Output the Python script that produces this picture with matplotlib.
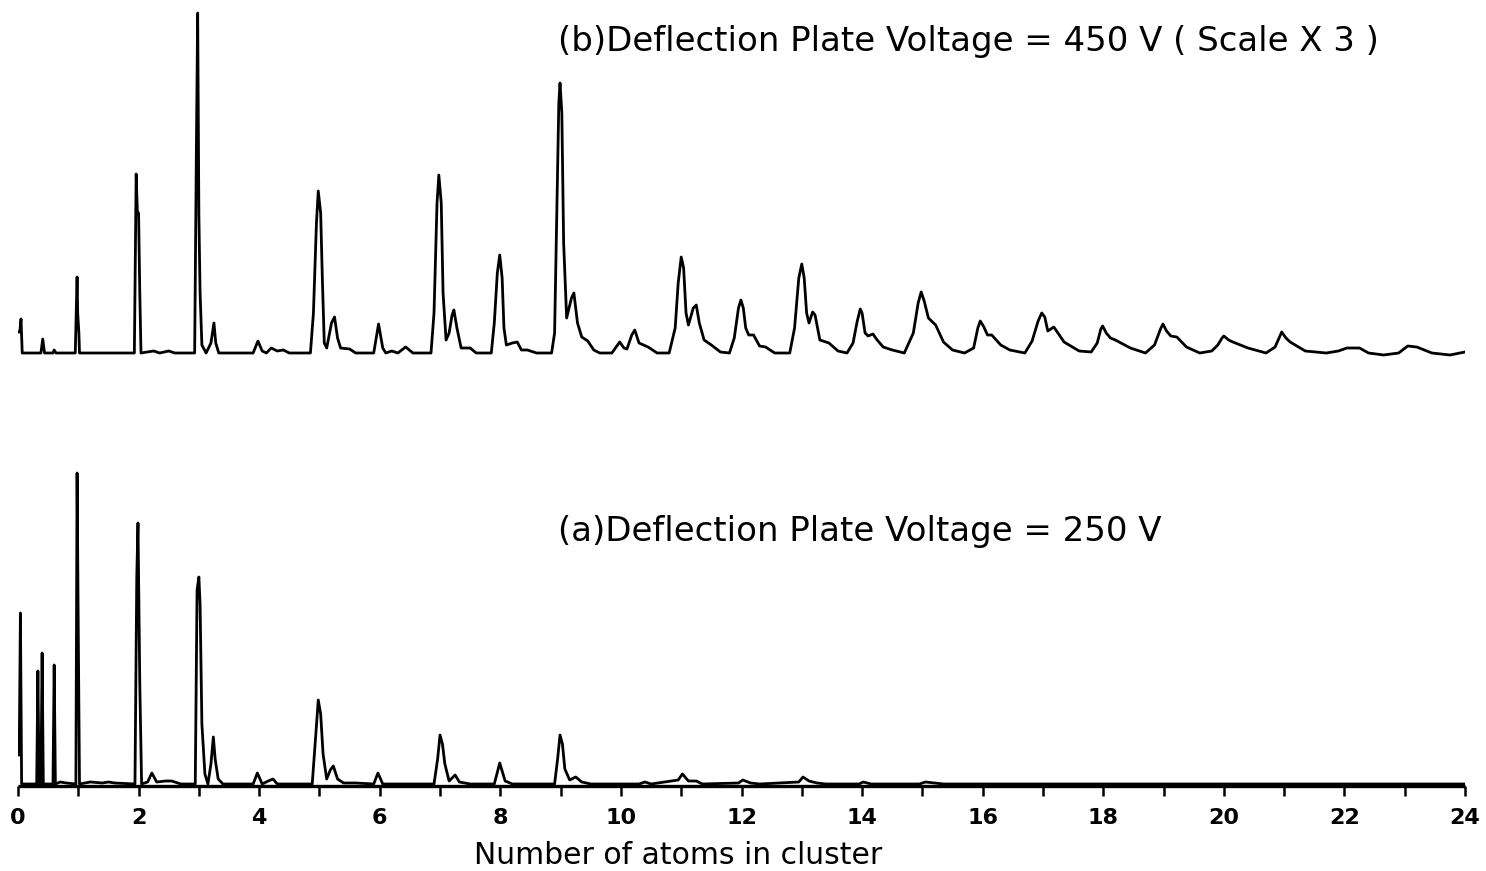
import matplotlib
matplotlib.use('Agg')
import matplotlib.pyplot as plt

# cluster-size spectrum, trace (b): 450 V, drawn at 3x scale
b_x = [0.00, 0.03, 0.05, 0.07, 0.38, 0.41, 0.44, 0.58, 0.60, 0.63,
       0.95, 0.98, 0.99, 1.01, 1.02, 1.93, 1.96, 1.98, 2.00, 2.02, 2.04,
       2.25, 2.35, 2.50, 2.60, 2.93, 2.96, 2.98, 3.00, 3.02, 3.05, 3.12,
       3.20, 3.25, 3.28, 3.33, 3.90, 3.98, 4.05, 4.12, 4.20, 4.30, 4.40,
       4.50, 4.85, 4.90, 4.95, 4.98, 5.02, 5.05, 5.08, 5.12, 5.20, 5.25,
       5.30, 5.35, 5.50, 5.60, 5.90, 5.95, 5.98, 6.02, 6.05, 6.10, 6.20,
       6.30, 6.43, 6.55, 6.85, 6.90, 6.95, 6.98, 7.02, 7.05, 7.10, 7.15,
       7.20, 7.23, 7.28, 7.35, 7.50, 7.60, 7.85, 7.90, 7.95, 7.99, 8.03,
       8.06, 8.10, 8.20, 8.28, 8.35, 8.45, 8.60, 8.85, 8.90, 8.94, 8.97,
       8.99, 9.02, 9.05, 9.10, 9.18, 9.22, 9.28, 9.35, 9.45, 9.55, 9.65,
       9.85, 9.98, 10.05, 10.10, 10.18, 10.23, 10.30, 10.45, 10.60, 10.80,
       10.90, 10.95, 11.00, 11.04, 11.08, 11.12, 11.20, 11.25, 11.30,
       11.38, 11.50, 11.65, 11.80, 11.88, 11.95, 11.99, 12.03, 12.07,
       12.12, 12.20, 12.30, 12.40, 12.55, 12.80, 12.88, 12.95, 13.00,
       13.04, 13.08, 13.12, 13.18, 13.22, 13.30, 13.45, 13.60, 13.75,
       13.85, 13.92, 13.97, 14.00, 14.05, 14.10, 14.18, 14.25, 14.35,
       14.50, 14.70, 14.85, 14.93, 14.98, 15.03, 15.10, 15.17, 15.22,
       15.35, 15.50, 15.70, 15.85, 15.92, 15.96, 16.02, 16.08, 16.15,
       16.30, 16.45, 16.70, 16.82, 16.92, 16.98, 17.03, 17.08, 17.18,
       17.35, 17.60, 17.80, 17.90, 17.96, 17.99, 18.05, 18.12, 18.20,
       18.45, 18.70, 18.85, 18.95, 18.99, 19.05, 19.12, 19.22, 19.38,
       19.60, 19.80, 19.90, 19.97, 20.00, 20.08, 20.15, 20.40, 20.70,
       20.85, 20.93, 20.96, 21.03, 21.10, 21.35, 21.70, 21.90, 22.04,
       22.25, 22.40, 22.65, 22.90, 23.05, 23.20, 23.45, 23.75, 24.00]
b_y = [21, 21, 34, 0, 0, 14, 0, 0, 3, 0,
       0, 76, 40, 20, 0, 0, 179, 140, 140, 60, 0,
       2, 0, 2, 0, 0, 213, 340, 138, 60, 8, 0,
       10, 30, 10, 0, 0, 12, 2, 0, 5, 2, 3,
       0, 0, 40, 130, 162, 140, 70, 10, 5, 30, 36,
       15, 5, 4, 0, 0, 18, 29, 15, 5, 0, 2,
       0, 6, 0, 0, 40, 150, 178, 150, 60, 13, 20,
       38, 43, 25, 5, 5, 0, 0, 30, 80, 98, 75,
       25, 8, 10, 11, 3, 3, 0, 0, 20, 150, 250,
       270, 240, 110, 35, 55, 60, 30, 16, 12, 3, 0,
       0, 11, 5, 4, 18, 23, 10, 6, 0, 0,
       25, 70, 96, 85, 40, 28, 45, 48, 30,
       13, 8, 1, 0, 15, 45, 53, 45, 25,
       18, 18, 7, 6, 0, 0, 25, 75, 89,
       75, 40, 30, 41, 38, 13, 10, 2, 0,
       10, 32, 44, 40, 20, 17, 19, 13, 6,
       3, 0, 20, 50, 61, 52, 35, 31, 28,
       11, 3, 0, 5, 25, 32, 26, 18, 18,
       8, 3, 0, 12, 32, 40, 36, 22, 26,
       11, 2, 1, 10, 24, 27, 20, 15, 13,
       5, 0, 8, 24, 29, 22, 17, 16, 6,
       0, 2, 8, 15, 17, 13, 11, 5, 0,
       6, 17, 21, 15, 11, 2, 0, 2, 5,
       5, 0, -2, 0, 7, 6, 0, -2, 1]

# trace (a): 250 V
a_x = [0.00, 0.02, 0.04, 0.06, 0.31, 0.33, 0.35, 0.38, 0.40, 0.42,
       0.58, 0.60, 0.62, 0.70, 0.80, 0.96, 0.98, 1.00, 1.02, 1.20,
       1.40, 1.50, 1.60, 1.94, 1.97, 1.99, 2.02, 2.05, 2.15, 2.22,
       2.30, 2.45, 2.55, 2.70, 2.94, 2.97, 3.00, 3.02, 3.05, 3.10,
       3.15, 3.20, 3.24, 3.27, 3.32, 3.40, 3.90, 3.97, 4.05, 4.15,
       4.23, 4.30, 4.88, 4.94, 4.98, 5.02, 5.06, 5.12, 5.18, 5.23,
       5.30, 5.40, 5.60, 5.90, 5.97, 6.05, 6.90, 6.96, 7.00, 7.04,
       7.08, 7.15, 7.25, 7.32, 7.50, 7.90, 7.99, 8.08, 8.20, 8.90,
       8.95, 8.99, 9.03, 9.07, 9.15, 9.25, 9.35, 9.50, 10.30, 10.40,
       10.50, 10.95, 11.02, 11.12, 11.25, 11.35, 11.95, 12.02, 12.15,
       12.30, 12.95, 13.02, 13.12, 13.25, 13.40, 13.95, 14.02, 14.15,
       14.95, 15.05, 15.20, 15.35, 24.00]
a_y = [29, 29, 171, 0, 0, 113, 0, 0, 131, 0,
       0, 119, 0, 2, 1, 0, 311, 150, 0, 2,
       1, 2, 1, 0, 207, 261, 100, 0, 2, 11,
       2, 3, 3, 0, 0, 194, 207, 180, 60, 10,
       0, 20, 47, 25, 5, 0, 0, 11, 0, 3,
       5, 0, 0, 50, 84, 70, 30, 5, 14, 18,
       5, 1, 1, 0, 11, 0, 0, 25, 49, 40,
       20, 3, 9, 2, 0, 0, 21, 3, 0, 0,
       25, 49, 40, 15, 4, 7, 2, 0, 0, 2,
       0, 4, 10, 3, 3, 0, 1, 4, 1,
       0, 2, 7, 3, 1, 0, 0, 2, 0,
       0, 2, 1, 0, 0]

ticks_major = list(range(0, 25, 2))
ticks_minor = list(range(1, 24, 2))

label_b = '(b)Deflection Plate Voltage = 450 V ( Scale X 3 )'
label_a = '(a)Deflection Plate Voltage = 250 V'
xlabel = 'Number of atoms in cluster'

# vertical shift that stacks trace (b) above trace (a)
offset_b = 431

fig = plt.figure(figsize=(14.86, 8.71), dpi=100)
ax = fig.add_axes([18 / 1486, 85 / 871, 1447 / 1486, 786 / 871])

ax.plot(b_x, [y + offset_b for y in b_y], color='black', linewidth=2.0,
        solid_joinstyle='round')
ax.plot(a_x, a_y, color='black', linewidth=2.0, solid_joinstyle='round')

ax.set_xlim(0, 24)
ax.set_ylim(-2, 784)

for side in ['top', 'left', 'right']:
    ax.spines[side].set_visible(False)
ax.spines['bottom'].set_linewidth(2.4)
ax.spines['bottom'].set_capstyle('butt')

ax.set_yticks([])
ax.set_xticks(ticks_major)
ax.set_xticks(ticks_minor, minor=True)
ax.tick_params(axis='x', which='both', direction='out', length=7.5, width=1.8)
ax.tick_params(axis='x', which='major', pad=8, labelsize=16)
for lab in ax.get_xticklabels():
    lab.set_fontweight('bold')

ax.set_xlabel(xlabel, fontsize=21.5, labelpad=10, x=(678 - 18) / 1447)

ax.text(8.95, 742, label_b, fontsize=24.5, ha='left', va='center')
ax.text(8.95, 252, label_a, fontsize=24.5, ha='left', va='center')

fig.savefig('out.png', dpi=100)
